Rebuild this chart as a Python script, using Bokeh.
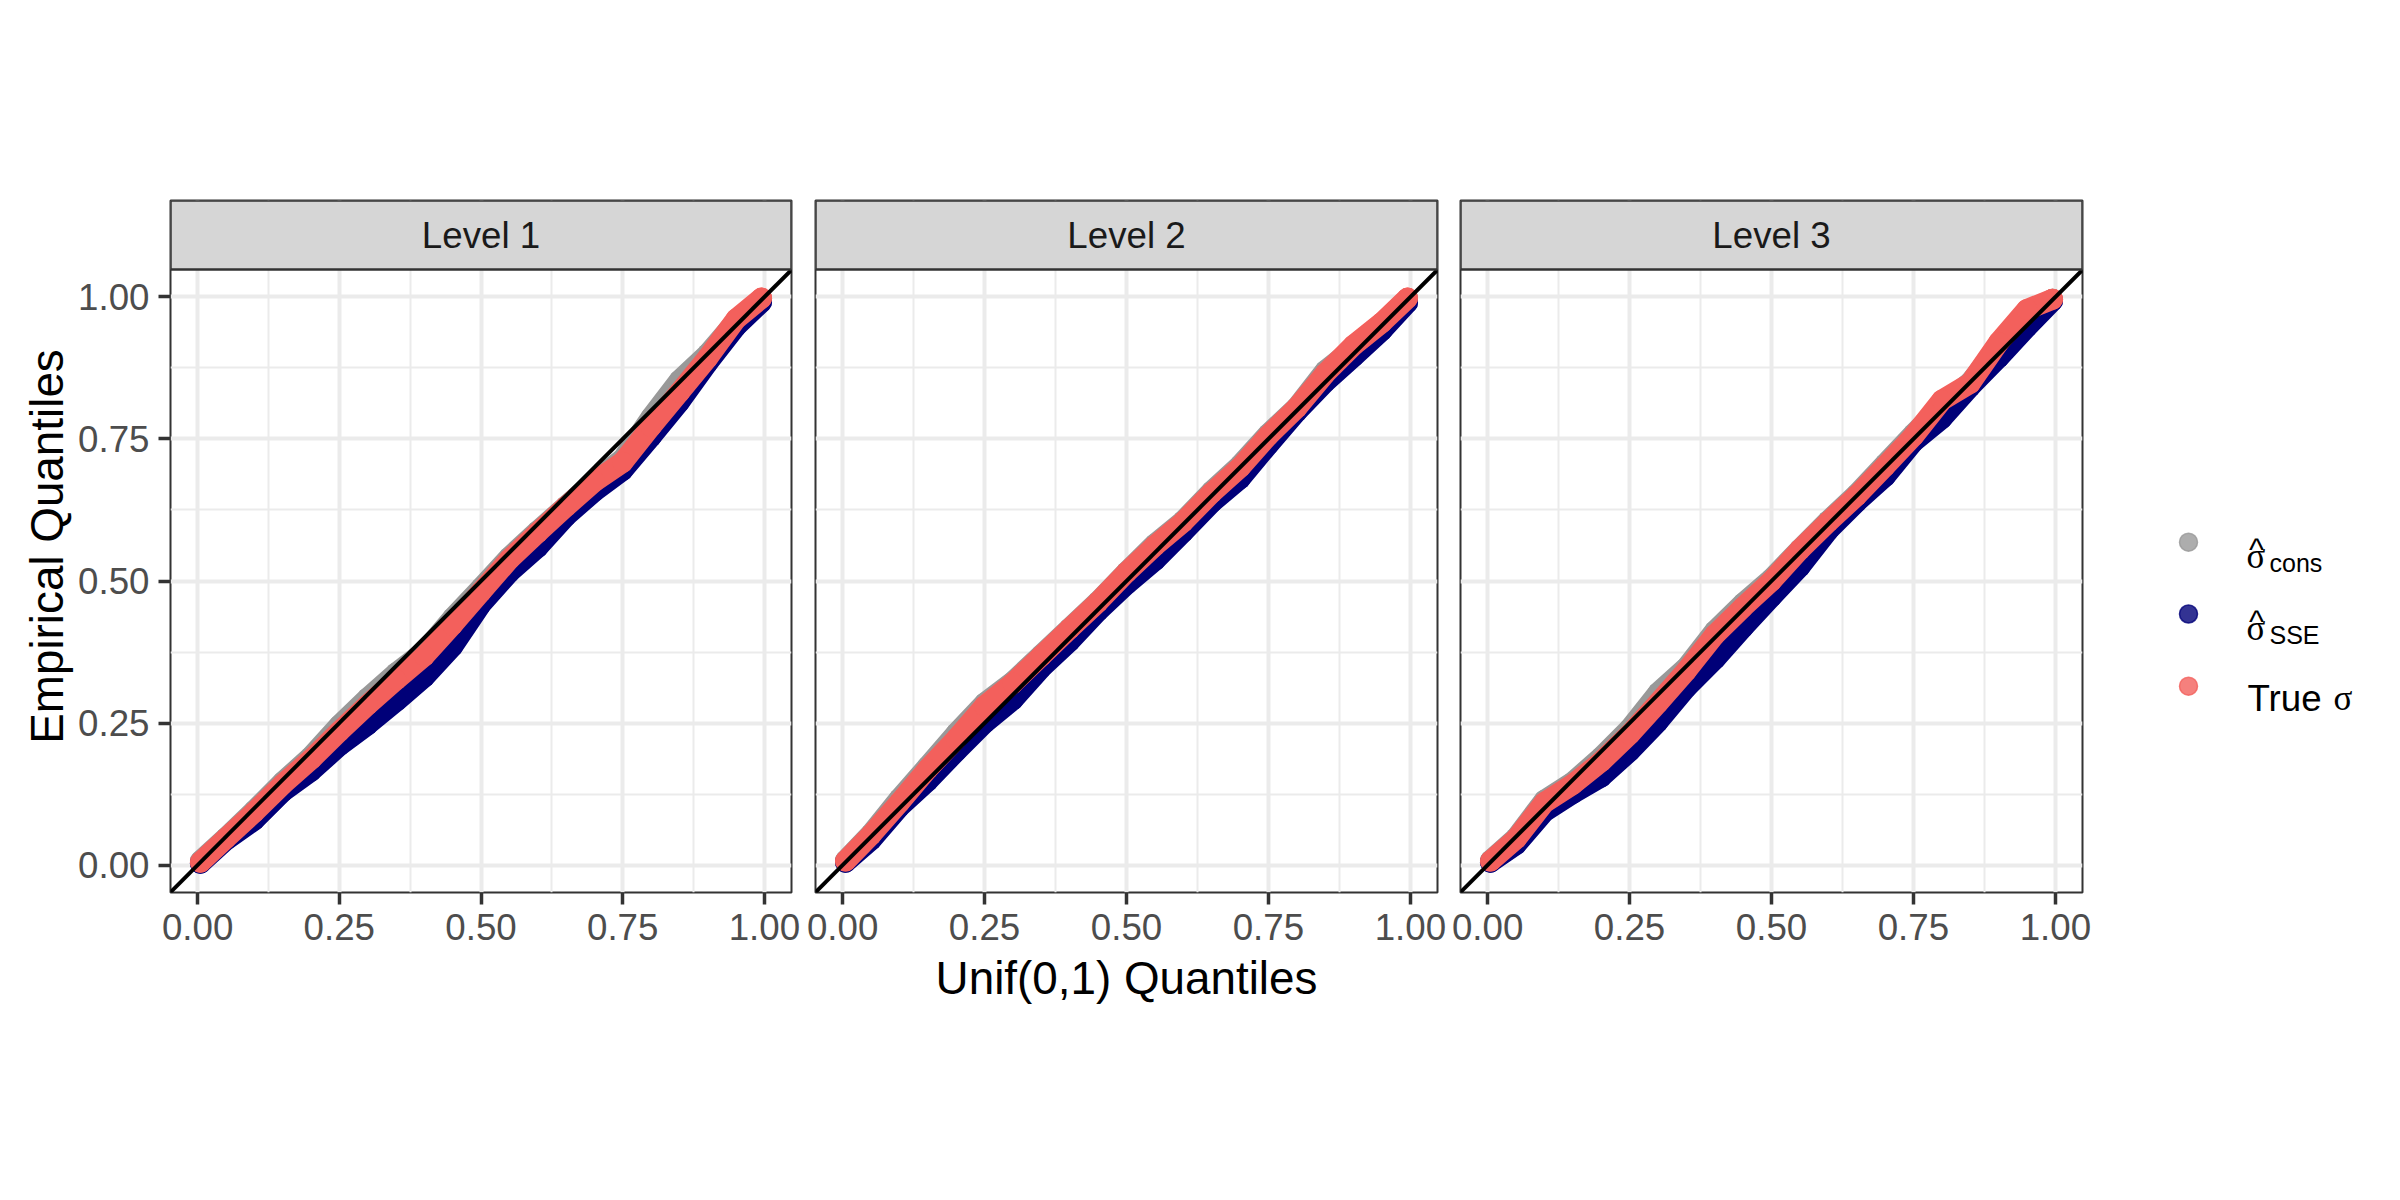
from bokeh.plotting import figure
from bokeh.layouts import row
from bokeh.models import Range1d, FixedTicker
from bokeh.core.properties import value
from bokeh.embed import file_html
from bokeh.resources import INLINE

# ---------------- data ----------------
levels = ["Level 1", "Level 2", "Level 3"]
unif_q = [0.005, 0.05, 0.10, 0.15, 0.20, 0.25, 0.30, 0.35, 0.40, 0.45, 0.50,
          0.55, 0.60, 0.65, 0.70, 0.75, 0.80, 0.85, 0.90, 0.95, 0.995]

cons_l1 = [0.007, 0.048, 0.096, 0.146, 0.191, 0.246, 0.294, 0.338, 0.376, 0.435, 0.488,
           0.542, 0.588, 0.632, 0.676, 0.715, 0.788, 0.853, 0.900, 0.958, 0.997]
sse_l1 = [0.003, 0.044, 0.079, 0.129, 0.165, 0.210, 0.247, 0.288, 0.331, 0.385, 0.459,
          0.515, 0.559, 0.614, 0.658, 0.695, 0.754, 0.815, 0.884, 0.948, 0.991]
true_l1 = [0.005, 0.047, 0.093, 0.142, 0.186, 0.235, 0.282, 0.326, 0.368, 0.423, 0.481,
           0.538, 0.585, 0.631, 0.675, 0.709, 0.772, 0.832, 0.893, 0.961, 0.998]

cons_l2 = [0.008, 0.055, 0.117, 0.174, 0.232, 0.285, 0.323, 0.370, 0.417, 0.464, 0.516,
           0.565, 0.606, 0.658, 0.704, 0.759, 0.806, 0.870, 0.910, 0.952, 0.997]
sse_l2 = [0.005, 0.044, 0.102, 0.148, 0.200, 0.250, 0.291, 0.347, 0.394, 0.447, 0.494,
          0.536, 0.586, 0.638, 0.680, 0.740, 0.798, 0.850, 0.895, 0.941, 0.990]
true_l2 = [0.007, 0.053, 0.110, 0.169, 0.222, 0.280, 0.320, 0.368, 0.416, 0.463, 0.515,
           0.562, 0.604, 0.655, 0.700, 0.756, 0.805, 0.865, 0.915, 0.955, 0.998]

cons_l3 = [0.008, 0.048, 0.114, 0.146, 0.190, 0.240, 0.303, 0.348, 0.412, 0.461, 0.504,
           0.556, 0.606, 0.653, 0.706, 0.759, 0.809, 0.850, 0.912, 0.970, 0.996]
sse_l3 = [0.005, 0.036, 0.094, 0.126, 0.155, 0.200, 0.252, 0.312, 0.362, 0.418, 0.472,
          0.525, 0.589, 0.639, 0.684, 0.745, 0.786, 0.842, 0.893, 0.947, 0.993]
true_l3 = [0.007, 0.046, 0.110, 0.142, 0.182, 0.230, 0.285, 0.342, 0.405, 0.454, 0.500,
           0.555, 0.604, 0.650, 0.702, 0.755, 0.818, 0.848, 0.920, 0.978, 0.996]

cons_series = [cons_l1, cons_l2, cons_l3]
sse_series = [sse_l1, sse_l2, sse_l3]
true_series = [true_l1, true_l2, true_l3]

tick_vals = [0.0, 0.25, 0.5, 0.75, 1.0]
tick_labels = ["0.00", "0.25", "0.50", "0.75", "1.00"]
minor_vals = [0.125, 0.375, 0.625, 0.875]

x_title = "Unif(0,1) Quantiles"
y_title = "Empirical Quantiles"

# ---------------- styling ----------------
COL_CONS = "#999999"
COL_SSE = "#000078"
COL_TRUE = "#F3605C"
PT = 21

X_LO, X_HI = -0.0478, 1.0478
Y_LO, Y_HI = -0.0483, 1.0483
STRIP_TOP = 1.1698

H = 1184
TOP = 200
FRAME_H = 692
BOTTOM = H - TOP - FRAME_H
FONT = "Liberation Sans"
TICK_FS = "36.7px"
TITLE_FS = "45.8px"

borders = [(170, 621, 12), (12, 622, 12), (11, 622, 12)]

figs = []
for i, lev in enumerate(levels):
    bl, fw, br = borders[i]
    p = figure(width=bl + fw + br, height=H,
               x_range=Range1d(X_LO, X_HI), y_range=Range1d(Y_LO, STRIP_TOP),
               output_backend="svg", toolbar_location=None,
               min_border_left=bl, min_border_right=br,
               min_border_top=TOP, min_border_bottom=BOTTOM)
    p.title.visible = False
    p.background_fill_color = "white"
    p.border_fill_color = "white"
    p.outline_line_color = "#333333"
    p.outline_line_width = 2

    tk = FixedTicker(ticks=tick_vals, minor_ticks=minor_vals)
    for ax in (p.xaxis, p.yaxis):
        ax.ticker = tk
        ax.major_label_overrides = {v: s for v, s in zip(tick_vals, tick_labels)}
        ax.axis_line_color = None
        ax.major_tick_line_color = "#333333"
        ax.major_tick_line_width = 3.5
        ax.major_tick_out = 12
        ax.major_tick_in = 0
        ax.minor_tick_line_color = None
        ax.major_label_text_font = FONT
        ax.major_label_text_font_size = TICK_FS
        ax.major_label_text_color = "#4D4D4D"
        ax.major_label_standoff = 9
        ax.axis_label_text_font = FONT
        ax.axis_label_text_font_size = TITLE_FS
        ax.axis_label_text_font_style = "normal"
        ax.axis_label_text_color = "black"
    if i == 0:
        p.yaxis.axis_label = y_title
        p.yaxis.axis_label_standoff = 2
    else:
        p.yaxis.visible = False
    if i == 1:
        p.xaxis.axis_label = x_title
        p.xaxis.axis_label_standoff = 10

    for g in (p.xgrid, p.ygrid):
        g.ticker = tk
        g.grid_line_color = "#EBEBEB"
        g.grid_line_width = 4
        g.minor_grid_line_color = "#EBEBEB"
        g.minor_grid_line_width = 2

    for ys, col in ((cons_series[i], COL_CONS), (sse_series[i], COL_SSE), (true_series[i], COL_TRUE)):
        p.line(unif_q, ys, line_color=col, line_width=PT, line_cap="round", line_join="round")
        p.scatter(unif_q, ys, size=PT, fill_color=col, line_color=col, line_width=0)

    # y = x reference line
    p.line([X_LO, X_HI], [X_LO, X_HI], line_color="black", line_width=4)

    # facet strip
    p.quad(left=[X_LO], right=[X_HI], bottom=[Y_HI], top=[STRIP_TOP],
           fill_color="#D6D6D6", line_color="#333333", line_width=2.5)
    p.text(x=[(X_LO + X_HI) / 2], y=[(Y_HI + STRIP_TOP) / 2], text=[lev],
           text_align="center", text_baseline="middle",
           text_font=value(FONT), text_font_size=value(TICK_FS), text_color="#1A1A1A")
    figs.append(p)

# ---------------- legend panel (coordinates in page pixels) ----------------
LX0 = sum(b[0] + b[1] + b[2] for b in borders)
LW = 298
lg = figure(width=LW, height=H,
            x_range=Range1d(LX0, LX0 + LW), y_range=Range1d(TOP + FRAME_H, TOP),
            output_backend="svg", toolbar_location=None,
            x_axis_location=None, y_axis_location=None,
            min_border_left=0, min_border_right=0,
            min_border_top=TOP, min_border_bottom=BOTTOM)
lg.title.visible = False
lg.outline_line_color = None
lg.xgrid.visible = False
lg.ygrid.visible = False
lg.background_fill_color = "white"
lg.border_fill_color = "white"

key_x = 2188
key_y = [541.7, 613.5, 685.7]
key_cols = [COL_CONS, COL_SSE, COL_TRUE]
lg.scatter([key_x] * 3, key_y, size=18, fill_color=key_cols, line_color=key_cols,
           fill_alpha=0.8, line_alpha=0.8, line_width=1.5)

SERIF = "Liberation Serif"
for r, sub in enumerate(["cons", "SSE"]):
    ky = key_y[r]
    lg.text(x=[2256], y=[ky + 7], text=["^"], text_align="center", text_baseline="alphabetic",
            text_font=value(FONT), text_font_size=value("32px"), text_color="black")
    lg.text(x=[2246], y=[ky + 14], text=["σ"], text_align="left", text_baseline="alphabetic",
            text_font=value(SERIF), text_font_size=value("35px"), text_color="black")
    lg.text(x=[2269], y=[ky + 21], text=[sub], text_align="left", text_baseline="alphabetic",
            text_font=value(FONT), text_font_size=value("25px"), text_color="black")
ky = key_y[2]
lg.text(x=[2247], y=[ky + 12.3], text=["True"], text_align="left", text_baseline="alphabetic",
        text_font=value(FONT), text_font_size=value(TICK_FS), text_color="black")
lg.text(x=[2333], y=[ky + 12.3], text=["σ"], text_align="left", text_baseline="alphabetic",
        text_font=value(SERIF), text_font_size=value("35px"), text_color="black")

layout = row(*figs, lg)
open("out.html", "w").write(file_html(layout, INLINE))
